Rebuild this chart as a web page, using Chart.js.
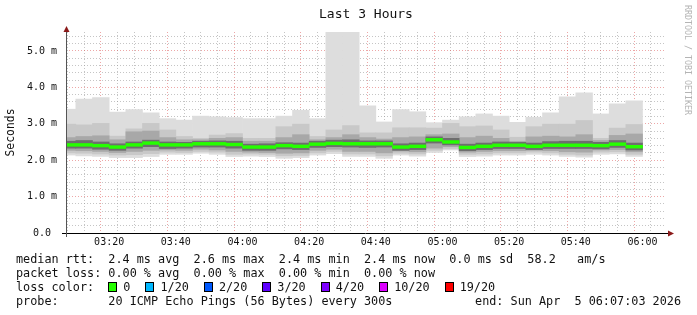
<!DOCTYPE html>
<html>
<head>
<meta charset="utf-8">
<script src="https://cdn.jsdelivr.net/npm/chart.js@4.4.1/dist/chart.umd.min.js"></script>
<style>
html, body { margin: 0; padding: 0; background: #fff; }
#wrap { position: relative; width: 697px; height: 315px; overflow: hidden; font-family: "DejaVu Sans Mono", monospace; color: #111; }
canvas { position: absolute; left: 0; top: 0; }
.txt { position: absolute; white-space: pre; font-size: 11.8px; line-height: 14px; }
#title { position: absolute; left: 266px; width: 200px; top: 6px; text-align: center; font-size: 13px; line-height: 16px; white-space: pre; }
#wm { position: absolute; left: 683px; top: 5px; writing-mode: vertical-rl; font-size: 8.3px; line-height: 10px; color: #b4b4b4; white-space: pre; }
.box { display: inline-block; width: 7px; height: 8px; border: 1px solid #000; margin-right: 6px; vertical-align: -1px; }
.lbl { margin-right: 15px; }
</style>
</head>
<body>
<div id="wrap">
  <canvas id="smoke" width="697" height="315"></canvas>
  <div id="title">Last 3 Hours</div>
  <div id="wm">RRDTOOL / TOBI OETIKER</div>
  <div class="txt" style="left:16px;top:252px">median rtt:  2.4 ms avg  2.6 ms max  2.4 ms min  2.4 ms now  0.0 ms sd  58.2   am/s</div>
  <div class="txt" style="left:16px;top:266px">packet loss: 0.00 % avg  0.00 % max  0.00 % min  0.00 % now</div>
  <div class="txt" id="losscolor" style="left:16px;top:280px">loss color:  </div>
  <div class="txt" style="left:16px;top:294px">probe:       20 ICMP Echo Pings (56 Bytes) every 300s</div>
  <div class="txt" style="right:16px;top:294px">end: Sun Apr  5 06:07:03 2026</div>
</div>
<script>
// 5 minute slots (start time of each step)
const slotStart = ["03:05","03:10","03:15","03:20","03:25","03:30","03:35","03:40","03:45","03:50","03:55",
	"04:00","04:05","04:10","04:15","04:20","04:25","04:30","04:35","04:40","04:45","04:50","04:55",
	"05:00","05:05","05:10","05:15","05:20","05:25","05:30","05:35","05:40","05:45","05:50","05:55"];

// rtt in ms
const rttMax  = [3.40,3.68,3.72,3.32,3.39,3.30,3.14,3.10,3.21,3.19,3.17,3.14,3.14,3.21,3.37,3.14,5.60,5.60,3.49,3.05,3.39,3.33,3.03,3.10,3.19,3.27,3.21,3.04,3.18,3.30,3.74,3.85,3.27,3.55,3.63];
const rttHi2  = [2.99,2.97,3.01,2.66,2.86,3.01,2.83,2.65,2.60,2.69,2.73,2.60,2.60,2.92,2.99,2.65,2.83,2.95,2.75,2.75,2.89,2.89,2.88,3.01,2.92,2.94,2.83,2.63,2.92,2.99,2.99,3.09,2.60,2.88,2.98];
const rttHi3  = [2.62,2.65,2.67,2.56,2.78,2.80,2.62,2.56,2.56,2.60,2.62,2.52,2.52,2.62,2.70,2.56,2.62,2.70,2.62,2.58,2.62,2.64,2.70,2.72,2.62,2.66,2.60,2.52,2.64,2.66,2.64,2.70,2.54,2.68,2.72];
const rttHi4  = [2.52,2.54,2.50,2.45,2.50,2.55,2.50,2.49,2.52,2.53,2.52,2.44,2.45,2.48,2.47,2.52,2.55,2.56,2.53,2.53,2.45,2.47,2.64,2.60,2.44,2.47,2.50,2.49,2.47,2.51,2.52,2.52,2.49,2.54,2.47];
const rttMedian = [2.42,2.42,2.40,2.36,2.42,2.47,2.42,2.42,2.45,2.45,2.43,2.36,2.36,2.40,2.38,2.44,2.46,2.45,2.45,2.45,2.36,2.38,2.56,2.50,2.35,2.38,2.41,2.41,2.38,2.41,2.41,2.41,2.40,2.44,2.37];
const rttLo4  = [2.33,2.33,2.30,2.27,2.33,2.37,2.32,2.33,2.36,2.36,2.33,2.27,2.27,2.31,2.29,2.35,2.37,2.36,2.35,2.36,2.27,2.29,2.47,2.42,2.26,2.29,2.32,2.32,2.29,2.32,2.32,2.32,2.31,2.35,2.28];
const rttLo3  = [2.27,2.26,2.24,2.21,2.24,2.27,2.28,2.27,2.30,2.28,2.24,2.22,2.21,2.19,2.20,2.27,2.30,2.24,2.24,2.20,2.25,2.23,2.33,2.37,2.22,2.24,2.26,2.26,2.27,2.26,2.23,2.22,2.28,2.29,2.23];
const rttLo2  = [2.20,2.19,2.17,2.14,2.15,2.18,2.22,2.21,2.24,2.22,2.16,2.17,2.16,2.12,2.13,2.20,2.24,2.17,2.17,2.12,2.19,2.17,2.27,2.32,2.16,2.17,2.20,2.20,2.22,2.20,2.16,2.14,2.22,2.23,2.16];
const rttMin  = [2.14,2.12,2.10,2.07,2.07,2.10,2.16,2.16,2.19,2.16,2.10,2.11,2.10,2.05,2.07,2.14,2.18,2.10,2.10,2.05,2.14,2.11,2.21,2.28,2.10,2.11,2.14,2.14,2.16,2.14,2.10,2.08,2.16,2.17,2.10];

const xTickLabels = ["03:20","03:40","04:00","04:20","04:40","05:00","05:20","05:40","06:00"];
const yTickLabels = ["0.0 ","1.0 m","2.0 m","3.0 m","4.0 m","5.0 m"];

const lossLabels = ["0","1/20","2/20","3/20","4/20","10/20","19/20"];
const lossColors = ["#26ff00","#00b8ff","#0059ff","#5e00ff","#7e00ff","#dd00ff","#ff0000"];

// graph window 03:07:03 .. 06:07:03, minutes after 03:00
const startMin = 7.05;
const endMin = 187.05;

function toMin(s) {
	let p = s.split(":");
	return (parseInt(p[0]) - 3) * 60 + parseInt(p[1]);
}

// legend boxes
let lc = document.getElementById("losscolor");
lossLabels.forEach((l, i) => {
	let b = document.createElement("span");
	b.className = "box";
	b.style.background = lossColors[i];
	lc.appendChild(b);
	let t = document.createElement("span");
	t.className = "lbl";
	t.textContent = l;
	lc.appendChild(t);
});

const xs = slotStart.map(s => toMin(s) + 2.5);
function band(lo, hi) {
	return xs.map((x, i) => ({ x: x, y: [lo[i], hi[i]] }));
}
const medHalf = 0.038;
const medLo = rttMedian.map(v => v - medHalf);
const medHi = rttMedian.map(v => v + medHalf);

const barStyle = { type: "bar", grouped: false, barPercentage: 1, categoryPercentage: 1, borderWidth: 0, clip: 0 };

const gridGrey = "rgba(150,150,150,0.55)";
const gridRed = "rgba(220,80,80,0.5)";

const axisArrows = {
	id: "axisArrows",
	afterDraw(chart) {
		const { ctx, chartArea: a } = chart;
		ctx.save();
		ctx.lineWidth = 1;
		ctx.strokeStyle = "#000";
		ctx.beginPath();
		ctx.moveTo(a.left - 4, a.bottom + 0.5);
		ctx.lineTo(a.right + 3, a.bottom + 0.5);
		ctx.stroke();
		ctx.strokeStyle = "#555";
		ctx.beginPath();
		ctx.moveTo(a.left + 0.5, a.bottom + 4);
		ctx.lineTo(a.left + 0.5, a.top - 1);
		ctx.stroke();
		ctx.fillStyle = "#8b1a1a";
		ctx.beginPath();
		ctx.moveTo(a.right + 2, a.bottom - 2.5);
		ctx.lineTo(a.right + 8, a.bottom + 0.5);
		ctx.lineTo(a.right + 2, a.bottom + 3.5);
		ctx.closePath();
		ctx.fill();
		ctx.beginPath();
		ctx.moveTo(a.left - 2.5, a.top);
		ctx.lineTo(a.left + 0.5, a.top - 6);
		ctx.lineTo(a.left + 3.5, a.top);
		ctx.closePath();
		ctx.fill();
		ctx.restore();
	}
};

const tickFont = { family: "DejaVu Sans Mono", size: 10 };

let smokeChart = new Chart(document.getElementById("smoke").getContext("2d"), {
	type: "bar",
	data: {
		datasets: [
			Object.assign({ label: "median", data: band(medLo, medHi), backgroundColor: "#26ff00" }, barStyle),
			Object.assign({ label: "s4", data: band(rttLo4, rttHi4), backgroundColor: "#6e6e6e" }, barStyle),
			Object.assign({ label: "s3", data: band(rttLo3, rttHi3), backgroundColor: "#a8a8a8" }, barStyle),
			Object.assign({ label: "s2", data: band(rttLo2, rttHi2), backgroundColor: "#c8c8c8" }, barStyle),
			Object.assign({ label: "s1", data: band(rttMin, rttMax), backgroundColor: "#dddddd" }, barStyle)
		]
	},
	options: {
		responsive: false,
		animation: false,
		devicePixelRatio: 1,
		layout: { padding: { top: 32, right: 31, left: 0, bottom: 0 } },
		plugins: { legend: { display: false }, tooltip: { enabled: false }, title: { display: false } },
		scales: {
			x: {
				type: "linear",
				min: startMin,
				max: endMin,
				offset: false,
				z: 1,
				afterFit: (axis) => { axis.height = 315 - 233; },
				afterBuildTicks: (axis) => {
					let t = [];
					for (let m = 10; m < endMin; m += 5) t.push({ value: m });
					axis.ticks = t;
				},
				border: { display: false, dash: [1, 2] },
				grid: {
					drawTicks: false,
					lineWidth: 1,
					color: (c) => (c.tick && c.tick.value % 20 === 0 ? gridRed : gridGrey)
				},
				ticks: {
					autoSkip: false,
					maxRotation: 0,
					padding: 3,
					color: "#111",
					font: tickFont,
					callback: (v) => {
						let l = xTickLabels.find(s => toMin(s) === v);
						return l || "";
					}
				}
			},
			y: {
				min: 0,
				max: 5.52,
				z: 1,
				afterFit: (axis) => { axis.width = 66; },
				afterBuildTicks: (axis) => {
					let t = [];
					for (let k = 0; k <= 27; k++) t.push({ value: Math.round(k * 2) / 10 });
					axis.ticks = t;
				},
				border: { display: false, dash: [1, 2] },
				grid: {
					drawTicks: false,
					lineWidth: 1,
					color: (c) => (c.tick && Math.abs(c.tick.value - Math.round(c.tick.value)) < 1e-6 ? gridRed : gridGrey)
				},
				ticks: {
					autoSkip: false,
					padding: 9,
					color: "#111",
					font: tickFont,
					callback: (v) => {
						if (Math.abs(v - Math.round(v)) > 1e-6) return "";
						return yTickLabels[Math.round(v)] || "";
					}
				},
				title: {
					display: true,
					text: "Seconds",
					color: "#111",
					font: { family: "DejaVu Sans Mono", size: 11.4 },
					padding: { top: 4, bottom: 0 }
				}
			}
		}
	},
	plugins: [axisArrows]
});
</script>
</body>
</html>
